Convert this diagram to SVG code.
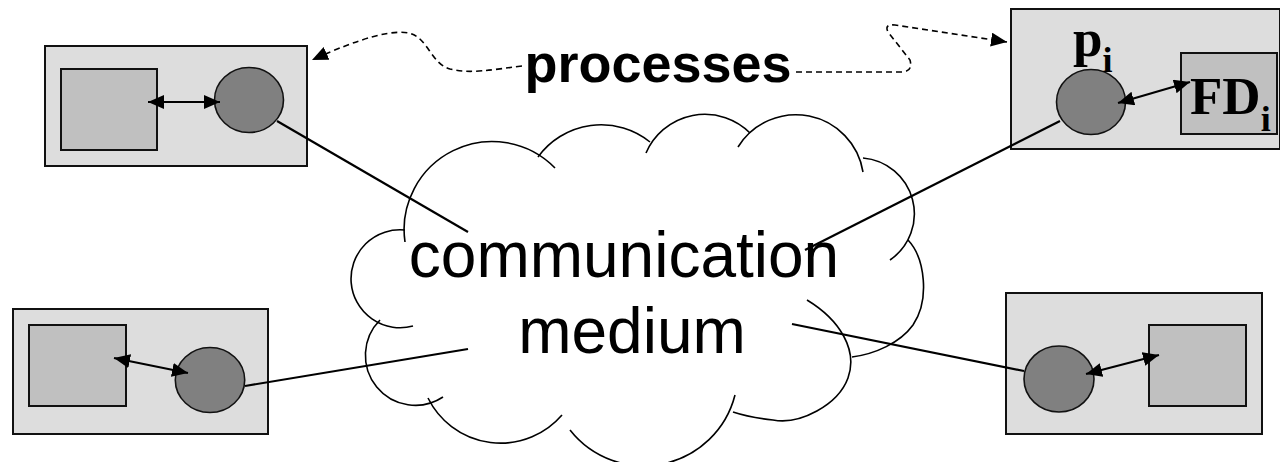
<svg xmlns="http://www.w3.org/2000/svg" width="1280" height="462" viewBox="0 0 1280 462">
  <defs>
    <style>
      .box { fill: #dddddd; stroke: #111; stroke-width: 2; }
      .fd { fill: #c0c0c0; stroke: #111; stroke-width: 2; }
      .proc { fill: #808080; stroke: #111; stroke-width: 1.6; }
      .link { stroke: #000; stroke-width: 2.2; fill: none; }
      .dbl { stroke: #000; stroke-width: 2.2; fill: none; marker-start: url(#head); marker-end: url(#head); }
      .dash { stroke: #000; stroke-width: 1.6; fill: none; stroke-dasharray: 6 4; marker-end: url(#head); }
      .cloud { fill: none; stroke: #000; stroke-width: 1.6; }
      .big { font-family: "Liberation Sans", Arial, sans-serif; font-size: 64px; fill: #000; text-anchor: middle; }
      .label { font-family: "Liberation Sans", Arial, sans-serif; font-size: 54px; font-weight: bold; fill: #000; text-anchor: middle; }
      .math { font-family: "Liberation Serif", "Times New Roman", serif; font-weight: bold; fill: #000; }
    </style>
    <marker id="head" markerUnits="userSpaceOnUse" markerWidth="18" markerHeight="16" refX="16" refY="7" orient="auto-start-reverse">
      <path d="M0,0 L16,7 L0,14 z" fill="#000"/>
    </marker>
  </defs>

  <!-- communication medium: cloud outline made of eleven lobes -->
  <g id="medium">
    <path class="cloud" d="M405,242 A88,88 0 0 1 555,168"/>
    <path class="cloud" d="M538,157 A78,78 0 0 1 650,142"/>
    <path class="cloud" d="M646,153 A64,64 0 0 1 750,133"/>
    <path class="cloud" d="M738,147 A68,68 0 0 1 863,172"/>
    <path class="cloud" d="M863,158 A56,56 0 0 1 890,260"/>
    <path class="cloud" d="M908,240 C925,258 930,300 913,325 C900,343 875,354 852,357"/>
    <path class="cloud" d="M807,300 C840,320 858,350 848,378 C838,405 800,425 773,420 C755,418 742,415 733,412"/>
    <path class="cloud" d="M735,395 A94,94 0 0 1 570,430"/>
    <path class="cloud" d="M562,415 A81,81 0 0 1 428,398"/>
    <path class="cloud" d="M443,397 A50,50 0 0 1 380,320"/>
    <path class="cloud" d="M413,326 A49,49 0 1 1 405,230"/>
    <text class="big" x="624" y="277">communication</text>
    <text class="big" x="632" y="353">medium</text>
  </g>

  <!-- process nodes: each holds a process (circle) and its detector (square) -->
  <g id="node-top-left">
    <rect class="box" x="45" y="46" width="262" height="120"/>
    <rect class="fd" x="61" y="69" width="96" height="81"/>
    <ellipse class="proc" cx="249" cy="100" rx="34.5" ry="32.5"/>
    <line class="dbl" x1="148" y1="102" x2="220" y2="102"/>
  </g>

  <g id="node-top-right">
    <rect class="box" x="1011" y="9" width="269" height="140"/>
    <rect class="fd" x="1181" y="53" width="96" height="81"/>
    <ellipse class="proc" cx="1091" cy="102" rx="34.5" ry="32.5"/>
    <line class="dbl" x1="1118" y1="103" x2="1190" y2="82"/>
    <text class="math" x="1073" y="56" font-size="53">p<tspan font-size="36" dy="16">i</tspan></text>
    <text class="math" x="1190" y="114" font-size="53">FD<tspan font-size="36" dy="17">i</tspan></text>
  </g>

  <g id="node-bottom-left">
    <rect class="box" x="13" y="309" width="255" height="125"/>
    <rect class="fd" x="29" y="325" width="97" height="81"/>
    <ellipse class="proc" cx="210" cy="380" rx="34.7" ry="32.5"/>
    <line class="dbl" x1="114" y1="358" x2="188" y2="373"/>
  </g>

  <g id="node-bottom-right">
    <rect class="box" x="1006" y="293" width="256" height="141"/>
    <rect class="fd" x="1149" y="325" width="97" height="81"/>
    <ellipse class="proc" cx="1059" cy="379" rx="35" ry="33"/>
    <line class="dbl" x1="1086" y1="374" x2="1159" y2="355"/>
  </g>

  <!-- "processes" label pointing at two of the nodes -->
  <g id="processes-label">
    <text class="label" x="658" y="82">processes</text>
  </g>

  <g id="connectors">
    <line class="link" x1="277" y1="121" x2="468" y2="232"/>
    <line class="link" x1="1060" y1="121" x2="805" y2="250"/>
    <line class="link" x1="245" y1="386" x2="468" y2="349"/>
    <line class="link" x1="1024" y1="371" x2="792" y2="324"/>
    <path class="dash" d="M522,66 C490,70 470,74 450,69 C432,64 428,40 412,34 C395,28 360,38 312,60"/>
    <path class="dash" d="M796,72 L903,72 Q913,71 910,60 L888,32 Q884,24 895,25 L1007,42"/>
  </g>
</svg>
